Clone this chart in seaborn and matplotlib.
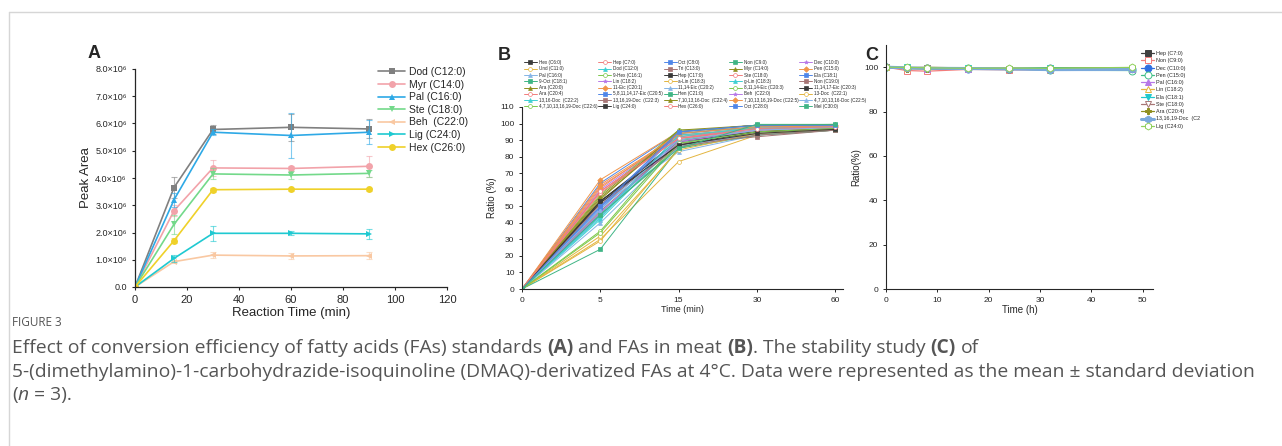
import numpy as np
import pandas as pd
import matplotlib
matplotlib.use("Agg")
import matplotlib.pyplot as plt
import seaborn as sns
from matplotlib.ticker import FuncFormatter, MultipleLocator
from matplotlib.lines import Line2D
from matplotlib.transforms import Bbox, TransformedBbox

sns.set_style("ticks")
plt.rcParams["font.family"] = ["Liberation Sans", "DejaVu Sans"]

# ---------------- data ----------------
# panel A : peak area vs reaction time (mean, sd)
a_time = [0, 15, 30, 60, 90]
a_names = ["Dod (C12:0)", "Myr (C14:0)", "Pal (C16:0)", "Ste (C18:0)",
           "Beh  (C22:0)", "Lig (C24:0)", "Hex (C26:0)"]
a_dod = [0, 3.65e6, 5.78e6, 5.86e6, 5.80e6]
a_myr = [0, 2.80e6, 4.37e6, 4.35e6, 4.43e6]
a_pal = [0, 3.20e6, 5.68e6, 5.56e6, 5.68e6]
a_ste = [0, 2.30e6, 4.15e6, 4.11e6, 4.17e6]
a_beh = [0, 0.93e6, 1.17e6, 1.14e6, 1.15e6]
a_lig = [0, 1.05e6, 1.97e6, 1.97e6, 1.95e6]
a_hex = [0, 1.70e6, 3.57e6, 3.59e6, 3.59e6]
a_dod_sd = [0, 0.38e6, 0.18e6, 0.50e6, 0.35e6]
a_myr_sd = [0, 0.20e6, 0.30e6, 0.10e6, 0.38e6]
a_pal_sd = [0, 0.25e6, 0.10e6, 0.82e6, 0.45e6]
a_ste_sd = [0, 0.35e6, 0.20e6, 0.15e6, 0.12e6]
a_beh_sd = [0, 0.05e6, 0.12e6, 0.10e6, 0.12e6]
a_lig_sd = [0, 0.12e6, 0.28e6, 0.08e6, 0.18e6]
a_hex_sd = [0, 0.08e6, 0.08e6, 0.06e6, 0.05e6]
a_colors = ["#808080", "#f2a3aa", "#2ea9e6", "#73d98a", "#f9c8a2", "#1fc9d1", "#efd12a"]
a_markers = ["s", "o", "^", "v", "<", ">", "o"]

# panel B : conversion ratio of FAs in meat
b_time = ["0", "5", "15", "30", "60"]
b_names = ["Hex (C6:0)", "Hep (C7:0)", "Oct (C8:0)", "Non (C9:0)", "Dec (C10:0)",
           "Und (C11:0)", "Dod (C12:0)", "Tri (C13:0)", "Myr (C14:0)", "Pen (C15:0)",
           "Pal (C16:0)", "9-Hex (C16:1)", "Hep (C17:0)", "Ste (C18:0)", "Ela (C18:1)",
           "9-Oct (C18:1)", "Lin (C18:2)", "a-Lin (C18:3)", "g-Lin (C18:3)", "Non (C19:0)",
           "Ara (C20:0)", "11-Eic (C20:1)", "11,14-Eic (C20:2)", "8,11,14-Eic (C20:3)", "11,14,17-Eic (C20:3)",
           "Ara (C20:4)", "5,8,11,14,17-Eic (C20:5)", "Hen (C21:0)", "Beh  (C22:0)", "13-Doc  (C22:1)",
           "13,16-Doc  (C22:2)", "13,16,19-Doc  (C22:3)", "7,10,13,16-Doc  (C22:4)", "7,10,13,16,19-Doc (C22:5)", "4,7,10,13,16-Doc (C22:5)",
           "4,7,10,13,16,19-Doc (C22:6)", "Lig (C24:0)", "Hex (C26:0)", "Oct (C28:0)", "Mel (C30:0)"]
b_0min = [0] * 40
b_5min = [53, 59, 64, 46, 60, 30, 42, 52, 55, 66, 50, 57, 53, 62, 48, 45, 44, 29, 43, 47,
          56, 63, 40, 35, 52, 58, 49, 24, 46, 32, 44, 51, 54, 61, 48, 34, 53, 59, 50, 45]
b_15min = [90, 92, 95, 88, 93, 77, 90, 87, 94, 95, 83, 96, 89, 92, 94, 86, 91, 85, 92, 88,
           95, 93, 86, 90, 87, 91, 95, 85, 89, 84, 93, 86, 96, 94, 90, 88, 87, 91, 95, 85]
b_30min = [95, 97, 99, 96, 97, 93, 98, 94, 98, 99, 93, 97, 95, 96, 98, 94, 97, 95, 98, 92,
           99, 97, 94, 96, 95, 96, 99, 93, 96, 94, 97, 93, 99, 98, 96, 95, 94, 97, 99, 99.5]
b_60min = [97, 98, 99, 97, 98, 96, 98.5, 96, 99, 99, 96, 98, 97, 97, 98.5, 96.5, 98, 97, 98, 96,
           99, 98, 96.5, 97.5, 97, 97.5, 99, 96, 98, 96.5, 98, 96, 99.5, 98.5, 97.5, 97, 96.5, 98, 99, 99.5]
b_colors = ["#3a3a3a", "#f27c7c", "#4f86e8", "#3fb585", "#b779e8", "#e3b53f",
            "#3fd0d3", "#a77676", "#8f8f1f", "#f0954a", "#86b5e6", "#7cc84a"]
b_markers = ["s", "o", "s", "s", "*", "o", "^", "s", "^", "D", "^", "o"]

# panel C : stability at 4 degC
c_time = [0, 4, 8, 16, 24, 32, 48]
c_names = ["Hep (C7:0)", "Non (C9:0)", "Dec (C10:0)", "Pen (C15:0)", "Pal (C16:0)",
           "Lin (C18:2)", "Ela (C18:1)", "Ste (C18:0)", "Ara (C20:4)",
           "13,16,19-Doc  (C22:3)", "Lig (C24:0)"]
c_hep = [100, 99.5, 99.3, 99.2, 99.0, 99.3, 99.0]
c_non = [100, 98.5, 98.2, 99.0, 98.8, 98.8, 98.8]
c_dec = [100, 99.5, 99.5, 99.3, 99.2, 99.5, 99.3]
c_pen = [100, 99.8, 99.6, 99.5, 99.3, 98.6, 98.5]
c_pal = [100, 99.6, 99.4, 99.3, 99.5, 99.4, 99.2]
c_lin = [100, 99.8, 100, 99.6, 99.7, 99.6, 99.8]
c_ela = [100, 99.9, 99.5, 99.6, 99.4, 99.8, 99.4]
c_ste = [100, 99.3, 99.5, 99.2, 99.0, 99.0, 99.2]
c_ara = [100, 99.4, 99.2, 99.0, 99.3, 99.5, 99.6]
c_doc = [100, 99.7, 99.5, 99.4, 99.2, 98.9, 99.0]
c_lig = [100, 99.9, 99.7, 99.5, 99.6, 99.5, 99.9]
c_colors = ["#404040", "#f27c7c", "#2f6fe0", "#3fbf85", "#b779e8", "#e3b53f",
            "#20c8cc", "#a77676", "#8f8f1f", "#7aa9dc", "#8fd05a"]
c_markers = ["s", "s", "o", "o", "^", "^", "v", "v", "P", "h", "h"]
c_filled = [True, False, True, False, True, False, True, False, True, True, False]

# ---------------- figure ----------------
W, H = 1282, 446
fig = plt.figure(figsize=(W / 100, H / 100), dpi=100)


def fbox(x0, y0, x1, y1):
    return [x0 / W, 1 - y1 / H, (x1 - x0) / W, (y1 - y0) / H]


# frame around the figure
fig.add_artist(Line2D([9 / W, 9 / W], [0, 1 - 12 / H], transform=fig.transFigure, color="#d6d6d6", lw=1))
fig.add_artist(Line2D([9 / W, 1], [1 - 12 / H, 1 - 12 / H], transform=fig.transFigure, color="#d6d6d6", lw=1))

# ---- A ----
axA = fig.add_axes(fbox(135, 69, 447, 287))
a_series = [a_dod, a_myr, a_pal, a_ste, a_beh, a_lig, a_hex]
a_sds = [a_dod_sd, a_myr_sd, a_pal_sd, a_ste_sd, a_beh_sd, a_lig_sd, a_hex_sd]
for name, vals, sd, col, mk in zip(a_names, a_series, a_sds, a_colors, a_markers):
    axA.errorbar(a_time, vals, yerr=sd, fmt="none", ecolor=col, alpha=0.6,
                 capsize=2, elinewidth=0.8, capthick=0.8)
    sns.lineplot(x=a_time, y=vals, ax=axA, color=col, marker=mk, markersize=5,
                 markeredgewidth=0, linewidth=1.2, label=name)
axA.set_xlim(0, 120)
axA.set_ylim(0, 8e6)
axA.xaxis.set_major_locator(MultipleLocator(20))
axA.yaxis.set_major_locator(MultipleLocator(1e6))
axA.yaxis.set_major_formatter(FuncFormatter(lambda v, p: "0.0" if v == 0 else f"{v / 1e6:.1f}×10⁶"))
axA.tick_params(axis="y", labelsize=6.5, length=2.5, width=0.8)
axA.tick_params(axis="x", labelsize=8, length=2.5, width=0.8)
axA.set_xlabel("Reaction Time (min)", fontsize=9.5, labelpad=1)
axA.set_ylabel("Peak Area", fontsize=9.5, labelpad=2)
for s in ["left", "bottom"]:
    axA.spines[s].set_linewidth(0.9)
sns.despine(ax=axA)
axA.legend(loc="upper left", bbox_to_anchor=(378 / W, 1 - 67 / H), bbox_transform=fig.transFigure,
           frameon=False, fontsize=7.5, handlelength=2.6, handletextpad=0.4, labelspacing=0.25,
           borderpad=0, borderaxespad=0)
fig.text(88 / W, 1 - 53 / H, "A", fontsize=13, fontweight="bold", va="center")

# ---- B ----
axB = fig.add_axes(fbox(522, 107, 843, 289))
b_pos = np.arange(len(b_time))
for i, name in enumerate(b_names):
    vals = [b_0min[i], b_5min[i], b_15min[i], b_30min[i], b_60min[i]]
    col = b_colors[i % 12]
    mk = b_markers[i % 12]
    mfc = "white" if mk == "o" else col
    sns.lineplot(x=b_pos, y=vals, ax=axB, color=col, marker=mk, markersize=2.8,
                 markerfacecolor=mfc, markeredgecolor=col, markeredgewidth=0.5,
                 linewidth=0.7, label=name)
axB.set_xlim(0, 4.1)
axB.set_ylim(0, 110)
axB.set_xticks(b_pos)
axB.set_xticklabels(b_time)
axB.yaxis.set_major_locator(MultipleLocator(10))
axB.tick_params(labelsize=6, length=2, width=0.7)
axB.set_xlabel("Time (min)", fontsize=6.5, labelpad=1)
axB.set_ylabel("Ratio (%)", fontsize=7, labelpad=2)
for s in ["left", "bottom"]:
    axB.spines[s].set_linewidth(0.8)
sns.despine(ax=axB)
# legend reads row by row in the original
handles, labels = axB.get_legend_handles_labels()
ncol, nrow = 5, 8
order = [r * ncol + c for c in range(ncol) for r in range(nrow)]
legB = axB.legend([handles[k] for k in order], [labels[k] for k in order],
                  loc="upper left", bbox_to_anchor=(524 / W, 1 - 60 / H), bbox_transform=fig.transFigure,
                  ncol=ncol, frameon=False, fontsize=3.3, handlelength=2.8, handletextpad=0.4,
                  labelspacing=0.28, columnspacing=0.2, borderpad=0, borderaxespad=0)
fig.text(498 / W, 1 - 55 / H, "B", fontsize=13, fontweight="bold", va="center")

# ---- C ----
axC = fig.add_axes(fbox(886, 45, 1153, 289))
c_series = [c_hep, c_non, c_dec, c_pen, c_pal, c_lin, c_ela, c_ste, c_ara, c_doc, c_lig]
for name, vals, col, mk, filled in zip(c_names, c_series, c_colors, c_markers, c_filled):
    lw = 2.2 if name.startswith("13,16,19") else 0.9
    sns.lineplot(x=c_time, y=vals, ax=axC, color=col, marker=mk, markersize=5,
                 markerfacecolor=col if filled else "white", markeredgecolor=col,
                 markeredgewidth=0.7, linewidth=lw, label=name)
axC.set_xlim(0, 52)
axC.set_ylim(0, 110)
axC.xaxis.set_major_locator(MultipleLocator(10))
axC.set_yticks([0, 20, 40, 60, 80, 100])
axC.tick_params(labelsize=6, length=2, width=0.7)
axC.set_xlabel("Time (h)", fontsize=7, labelpad=1)
axC.set_ylabel("Ratio(%)", fontsize=7, labelpad=2)
for s in ["left", "bottom"]:
    axC.spines[s].set_linewidth(0.8)
sns.despine(ax=axC)
legC = axC.legend(loc="upper left", bbox_to_anchor=(1141 / W, 1 - 51 / H), bbox_transform=fig.transFigure,
                  frameon=False, fontsize=3.9, handlelength=2.4, handletextpad=0.4,
                  labelspacing=0.42, borderpad=0, borderaxespad=0)
fig.text(865 / W, 1 - 55 / H, "C", fontsize=13, fontweight="bold", va="center")

# legends are cut at the panel edges in the original
for leg, xcut in [(legB, 868), (legC, 1200)]:
    clip = TransformedBbox(Bbox([[0, 0], [xcut / W, 1]]), fig.transFigure)
    for t in leg.get_texts():
        t.set_clip_box(clip)
        t.set_clip_on(True)

# ---------------- caption ----------------
cap_color = "#555555"
cap_font = ["Open Sans", "DejaVu Sans"]
cap_size = 13.9
fig.text(12 / W, 1 - 323 / H, "FIGURE 3", fontsize=8.5, color=cap_color, family=cap_font, va="center")

renderer = fig.canvas.get_renderer()


def text_width(s, **kw):
    t = fig.text(0, 0, s, fontsize=cap_size, family=cap_font, **kw)
    w = t.get_window_extent(renderer).width
    t.remove()
    return w


space_w = text_width("a a") - text_width("aa")


def caption_line(y_px, pieces):
    x = 12.0
    for txt, kw in pieces:
        lead = len(txt) - len(txt.lstrip(" "))
        x += lead * space_w
        body = txt.strip(" ")
        if body:
            t = fig.text(x / W, 1 - y_px / H, body, fontsize=cap_size, family=cap_font,
                         color=cap_color, va="center", **kw)
            x += t.get_window_extent(renderer).width
        trail = len(txt) - len(txt.rstrip(" ")) if body else 0
        x += trail * space_w


bold = {"fontweight": "bold"}
caption_line(348, [("Effect of conversion efficiency of fatty acids (FAs) standards ", {}), ("(A)", bold),
                   (" and FAs in meat ", {}), ("(B)", bold), (". The stability study ", {}),
                   ("(C)", bold), (" of", {})])
caption_line(372, [("5-(dimethylamino)-1-carbohydrazide-isoquinoline (DMAQ)-derivatized FAs at 4°C. "
                    "Data were represented as the mean ± standard deviation", {})])
caption_line(395, [("(", {}), ("n", {"fontstyle": "italic"}), (" = 3).", {})])

fig.savefig("out.png", dpi=100)
